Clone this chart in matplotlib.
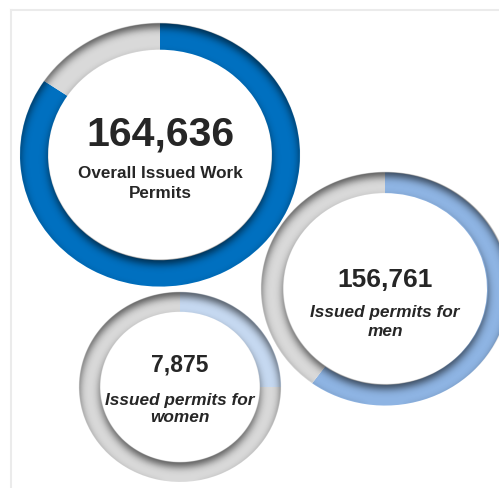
import numpy as np
import matplotlib.pyplot as plt

plt.rcParams['font.family'] = ['Liberation Sans', 'DejaVu Sans']

# values shown in the middle of each ring
values = [164636, 156761, 7875]
caption_top = ["Overall Issued Work", "Issued permits for", "Issued permits for"]
caption_bottom = ["Permits", "men", "women"]
# share of each ring that is filled
fill_share = [0.845, 0.60, 0.25]
fill_colors = ["#0070C0", "#8EB4E3", "#C6D9F1"]
rest_color = "#D9D9D9"

W, H = 499, 489
SQ = 0.94  # rings are slightly squashed vertically
# ring layout: centre in pixels, outer radius and ring width in horizontal px
rings = [(160, 156, 140, 28), (385, 290, 124, 22), (180, 388, 101, 21)]
num_size = [29.5, 19, 16.5]
cap_size = [12.3, 12.4, 12.4]
cap_style = ["normal", "italic", "italic"]
# pixel y of the number and the two caption lines
num_y = [135, 280, 365]
cap_y = [(173, 193), (313, 332), (400, 418)]


def ydat(py):
    return (H - py) / SQ


def blur(a, sigma):
    k = np.arange(-int(3 * sigma) - 1, int(3 * sigma) + 2)
    g = np.exp(-k ** 2 / (2 * sigma ** 2))
    g /= g.sum()
    p = len(k) // 2
    a = np.pad(a, p, mode="edge")
    a = np.apply_along_axis(lambda v: np.convolve(v, g, mode="same"), 0, a)
    a = np.apply_along_axis(lambda v: np.convolve(v, g, mode="same"), 1, a)
    return a[p:-p, p:-p]


def inner_shadow(ax, cx, cy, r, w, delta=5.0, sigma=4.0, strength=0.6):
    # inner shadow cast from above onto the ring
    sc = 2
    half = r + 3
    n = int(2 * half * sc)
    xs = np.linspace(cx - half, cx + half, n)
    ys = np.linspace(cy - half, cy + half, n)
    X, Y = np.meshgrid(xs, ys)

    def soft(rho):
        return np.clip(np.minimum(rho - (r - w), r - rho) * sc + 0.5, 0, 1)

    m = soft(np.hypot(X - cx, Y - cy))
    ms = soft(np.hypot(X - cx, Y + delta - cy))
    sh = blur(1 - ms, sigma * sc) * m
    img = np.zeros((n, n, 4))
    img[..., 3] = np.clip(strength * sh, 0, 1)
    ax.imshow(img, extent=(cx - half, cx + half, cy - half, cy + half),
              origin="lower", interpolation="bilinear", zorder=3)


fig = plt.figure(figsize=(W / 100, H / 100), dpi=100)
ax = fig.add_axes([0, 0, 1, 1])

# thin light frame at top and left
ax.plot([11, W], [ydat(11), ydat(11)], color="#EBEBEB", lw=1.5)
ax.plot([11, 11], [ydat(H), ydat(11)], color="#EBEBEB", lw=1.5)

for i, (cx, py, r, w) in enumerate(rings):
    cy = ydat(py)
    ax.pie([fill_share[i], 1 - fill_share[i]],
           colors=[fill_colors[i], rest_color],
           radius=r, center=(cx, cy), startangle=90, counterclock=False,
           wedgeprops=dict(width=w, edgecolor="none", linewidth=0),
           frame=True)
    inner_shadow(ax, cx, cy, r, w)
    ax.text(cx, ydat(num_y[i]), f"{values[i]:,}", ha="center", va="center",
            fontsize=num_size[i], fontweight="bold", color="#262626", zorder=5)
    for txt, yy in zip((caption_top[i], caption_bottom[i]), cap_y[i]):
        ax.text(cx, ydat(yy), txt, ha="center", va="center",
                fontsize=cap_size[i], fontweight="bold", fontstyle=cap_style[i],
                color="#262626", zorder=5)

ax.set_xlim(0, W)
ax.set_ylim(0, H / SQ)
ax.set_aspect("auto")
ax.axis("off")
fig.savefig("out.png", dpi=100, facecolor="white")
